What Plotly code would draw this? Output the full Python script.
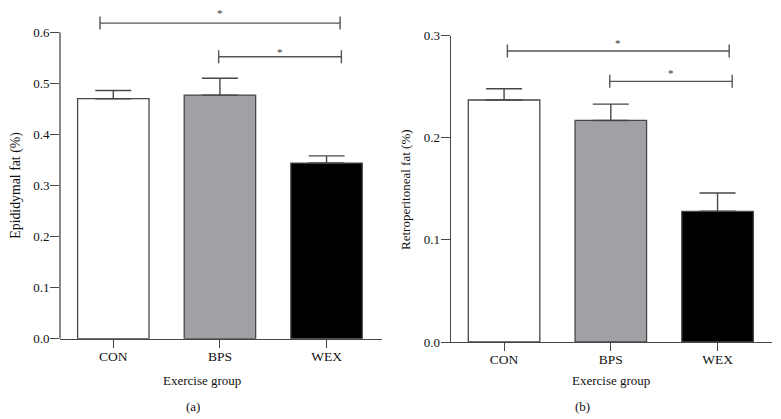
import plotly.graph_objects as go

# ---------------- data ----------------
groups = ["CON", "BPS", "WEX"]
epi_mean = [0.470, 0.477, 0.344]
epi_sem = [0.016, 0.033, 0.014]
retro_mean = [0.237, 0.217, 0.128]
retro_sem = [0.011, 0.016, 0.018]
bar_colors = ["#ffffff", "#a1a0a5", "#000000"]
yticks_a = [0.0, 0.1, 0.2, 0.3, 0.4, 0.5, 0.6]
yticks_b = [0.0, 0.1, 0.2, 0.3]
# significance brackets: (group from, group to, level)
sig_a = [("CON", "WEX", 0.618), ("BPS", "WEX", 0.552)]
sig_b = [("CON", "WEX", 0.285), ("BPS", "WEX", 0.2553)]

# ---------------- style ----------------
OFF = 8  # default page body margin of the html page
W, H = 781 - OFF, 419 - OFF
FONT = "Liberation Serif"
AX = "#474747"
TXT = "#111111"

def px(x):
    return (x - OFF) / W

def py(y):
    return min(1.0, max(0.0, 1 - (y - OFF) / H))

# bracket end offsets (category units) and star gaps (px)
br_off_a = [(-0.125, 0.127), (-0.012, 0.139)]
br_off_b = [(0.031, 0.109), (-0.010, 0.137)]
star_gap_a = [12, 6]
star_gap_b = [10, 10]

fig = go.Figure()

for (means, sems, xa, ya) in [(epi_mean, epi_sem, "x", "y"), (retro_mean, retro_sem, "x2", "y2")]:
    fig.add_trace(go.Bar(
        x=[0, 1, 2], y=means, xaxis=xa, yaxis=ya, width=0.67,
        marker=dict(color=bar_colors, line=dict(color=AX, width=1.3)),
        error_y=dict(type="data", symmetric=False, array=sems, arrayminus=[0, 0, 0],
                     color=AX, thickness=1.4, width=18),
        showlegend=False, hoverinfo="skip",
    ))

# panel geometry (px in the 781x419 window)
A = dict(x0=60, x1=382, ybot=338.7, ytop=32.3)
B = dict(x0=450.7, x1=772, ybot=342, ytop=35.7)
ppu_a = (A["ybot"] - A["ytop"]) / 0.6
rng_top_a = (A["ybot"] - OFF - 0.5) / ppu_a
dom_top_a = A["ybot"] - rng_top_a * ppu_a
ppu_b = (B["ybot"] - B["ytop"]) / 0.3

common = dict(ticks="outside", tickcolor=AX, tickwidth=1.3, showgrid=False, zeroline=False,
              automargin=False, fixedrange=True)
xcommon = dict(tickvals=[0, 1, 2], ticktext=groups, showline=True, linecolor=AX, linewidth=1.3,
               ticklen=8, ticklabelstandoff=-3, tickfont=dict(size=13.5, family=FONT, color=TXT),
               **common)
ycommon = dict(tickformat=".1f", ticklen=9, ticklabelstandoff=-2,
               tickfont=dict(size=13, family=FONT, color=TXT), **common)

fig.update_layout(
    template="none",
    width=W, height=H, margin=dict(l=0, r=0, t=0, b=0, pad=0, autoexpand=False),
    paper_bgcolor="white", plot_bgcolor="white",
    font=dict(family=FONT, size=12, color=TXT),
    xaxis=dict(domain=[px(A["x0"]), px(A["x1"])], range=[-0.5, 2.52], **xcommon),
    yaxis=dict(domain=[py(A["ybot"]), py(dom_top_a)], range=[0, rng_top_a],
               tickvals=yticks_a, showline=False, **ycommon),
    xaxis2=dict(domain=[px(B["x0"]), px(B["x1"])], range=[-0.5, 2.51], anchor="y2", **xcommon),
    yaxis2=dict(domain=[py(B["ybot"]), py(B["ytop"])], range=[0, 0.3], anchor="x2",
                tickvals=yticks_b, showline=True, linecolor=AX, linewidth=1.3, **ycommon),
)

shapes = []
# left y-axis line only up to 0.6
shapes.append(dict(type="line", xref="paper", yref="y", x0=px(A["x0"]), x1=px(A["x0"]),
                   y0=0, y1=yticks_a[-1], line=dict(color=AX, width=1.3)))

annots = []

def add_brackets(sig, offs, gaps, xr, yr, ppu, tickhalf_px):
    for (g1, g2, lvl), (o1, o2), gap in zip(sig, offs, gaps):
        xa = groups.index(g1) + o1
        xb = groups.index(g2) + o2
        d = tickhalf_px / ppu
        shapes.append(dict(type="line", xref=xr, yref=yr, x0=xa, x1=xb, y0=lvl, y1=lvl,
                           line=dict(color="#555555", width=1.4)))
        for xx in (xa, xb):
            shapes.append(dict(type="line", xref=xr, yref=yr, x0=xx, x1=xx, y0=lvl - d, y1=lvl + d,
                               line=dict(color="#555555", width=1.4)))
        annots.append(dict(xref=xr, yref=yr, x=(xa + xb) / 2, y=lvl + gap / ppu, text="*",
                           showarrow=False, xanchor="center", yanchor="middle", yshift=-1.5,
                           font=dict(size=11, family=FONT, color="#333333")))

add_brackets(sig_a, br_off_a, star_gap_a, "x", "y", ppu_a, 6.5)
add_brackets(sig_b, br_off_b, star_gap_b, "x2", "y2", ppu_b, 6.5)

lab = dict(size=13, family=FONT, color=TXT)
ylab = dict(size=13.8, family=FONT, color=TXT)

def label(x, y, text, angle=0, font=lab):
    return dict(xref="paper", yref="paper", x=px(x), y=py(y), text=text, textangle=angle,
                xanchor="center", yanchor="middle", showarrow=False, font=font)

annots += [
    label(15.7, 185, "Epididymal fat (%)", -90, ylab),
    label(405, 189, "Retroperitoneal fat (%)", -90, lab),
    label(201.7, 380, "Exercise group"),
    label(610.7, 380, "Exercise group"),
    label(193, 406, "(a)"),
    label(582.7, 406, "(b)"),
]

fig.update_layout(shapes=shapes, annotations=annots)
fig.write_html("out.html")
